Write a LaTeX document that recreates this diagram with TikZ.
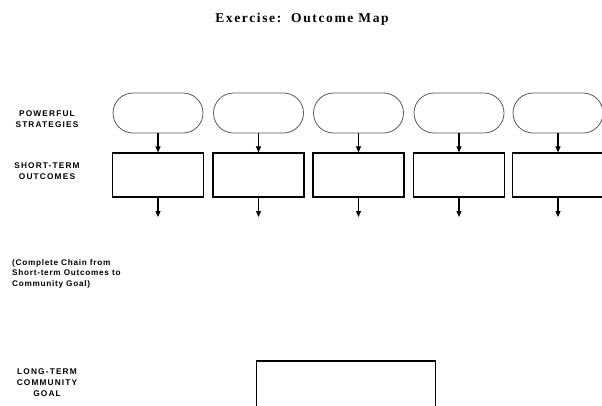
\documentclass[tikz,border=0pt]{standalone}
\usepackage{fontspec}
\setmainfont{Liberation Serif}
\setsansfont{Liberation Sans}
\usetikzlibrary{shapes.misc,arrows.meta}
\begin{document}
\begin{tikzpicture}[x=1pt,y=-1pt,
  strategy/.style={rounded rectangle,draw=black!65,line width=0.8pt,minimum width=90pt,minimum height=40pt,inner sep=0pt},
  outcome/.style={rectangle,draw=black,line width=1.2pt,minimum width=91pt,minimum height=44pt,inner sep=0pt},
  flow/.style={-{Triangle[length=6pt,width=5pt]},line width=1.1pt},
  rowlabel/.style={font=\sffamily\bfseries\fontsize{8.3}{11}\selectfont\addfontfeature{LetterSpace=14},align=center,inner sep=0pt},
  note/.style={font=\sffamily\bfseries\fontsize{8.2}{10.6}\selectfont\addfontfeature{LetterSpace=9},align=left,inner sep=0pt,anchor=north west}]
\useasboundingbox (0,0) rectangle (602,405);
\clip (0,0) rectangle (602,405);
% title
\node[font=\rmfamily\bfseries\fontsize{13.5}{15}\selectfont\addfontfeature{LetterSpace=12}] (title) at (302,19) {Exercise:\ \ Outcome Map};
% row labels
\node[rowlabel] (lstrat) at (47,119) {POWERFUL\\STRATEGIES};
\node[rowlabel] (lshort) at (47,171) {SHORT-TERM\\OUTCOMES};
\node[note] (lchain) at (12,259) {(Complete Chain from\\Short-term Outcomes to\\Community Goal)};
\node[rowlabel] (lgoal) at (47,383) {LONG-TERM\\COMMUNITY\\GOAL};
% strategies and short-term outcomes
\foreach \i/\x in {1/158,2/258.5,3/358.5,4/459,5/558}{
  \node[strategy] (s\i) at (\x,113) {};
  \node[outcome] (o\i) at (\x,175) {};
  \coordinate (d\i) at (\x,217);
  \draw[flow] (s\i) -- (o\i);
  \draw[flow] (o\i) -- (d\i);
}
% long-term community goal
\node[outcome,minimum width=179pt,minimum height=70pt] (goal) at (346,396) {};
\end{tikzpicture}
\end{document}
